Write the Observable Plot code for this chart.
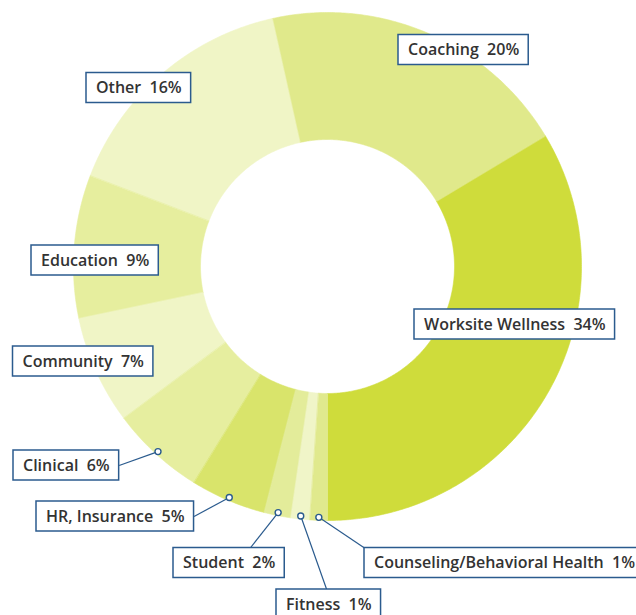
<!DOCTYPE html>
<html>
<head>
<meta charset="utf-8">
<script src="https://cdn.jsdelivr.net/npm/d3@7"></script>
<script src="https://cdn.jsdelivr.net/npm/@observablehq/plot@0.6"></script>
<style>
  html, body { margin: 0; padding: 0; background: #fff; overflow: hidden; }
  #chart { width: 636px; height: 615px; }
</style>
</head>
<body>
<div id="chart"></div>
<script>
// ---- data ----
const categories = ["Worksite Wellness", "Coaching", "Other", "Education", "Community",
  "Clinical", "HR, Insurance", "Student", "Fitness", "Counseling/Behavioral Health"];
const shares = [33.6, 19.9, 15.7, 9.1, 6.9, 6.0, 4.8, 1.7, 1.2, 1.1];
const pctLabels = ["34%", "20%", "16%", "9%", "7%", "6%", "5%", "2%", "1%", "1%"];
const sliceColors = ["#cfdc3b", "#e0e98b", "#f0f5c6", "#e6ee9e", "#f0f5c6",
  "#e6ee9f", "#d9e46b", "#e3ec9a", "#f0f5c8", "#e0e98d"];

// ---- layout ----
const W = 636, H = 615;
const CX = 327, CY = 266, R_OUT = 254, R_IN = 127;
const START = Math.PI; // first slice ends at 6 o'clock, slices run counter-clockwise
// label boxes: left edge, top edge; leader (outside labels): attach fraction on box
const labelLayout = [
  {left: 414, top: 309},
  {left: 398, top: 34.5},
  {left: 86, top: 72.5},
  {left: 31, top: 245},
  {left: 12.5, top: 346},
  {left: 13, top: 450, leader: [1, 0.5]},
  {left: 36, top: 501, leader: [1, 0.5]},
  {left: 173, top: 547.5, leader: [0.69, 0]},
  {left: 276, top: 589, leader: [0.48, 0]},
  {left: 364, top: 547.5, leader: [0, 0]}
];
const BOX_H = 30, PAD = 9.5;
const FONT_SIZE = 16;
const FONT = `600 ${FONT_SIZE}px 'Open Sans'`;
const BLUE = "#2b5b8e";

const total = d3.sum(shares);
const polar = (a, r) => [CX + r * Math.sin(a), CY - r * Math.cos(a)];

// slice polygons
const slicePts = [];
const centroids = [];
let cum = 0;
categories.forEach((cat, i) => {
  const a0 = START - 2 * Math.PI * cum / total;
  cum += shares[i];
  const a1 = START - 2 * Math.PI * cum / total;
  const n = Math.max(4, Math.ceil(Math.abs(a0 - a1) / (Math.PI / 360)));
  for (let k = 0; k <= n; k++) {
    const a = a0 + (a1 - a0) * k / n;
    const [x, y] = polar(a, R_OUT);
    slicePts.push({cat, x, y, color: sliceColors[i]});
  }
  for (let k = n; k >= 0; k--) {
    const a = a0 + (a1 - a0) * k / n;
    const [x, y] = polar(a, R_IN);
    slicePts.push({cat, x, y, color: sliceColors[i]});
  }
  centroids.push((a0 + a1) / 2);
});

// measure text
const ctx = document.createElement("canvas").getContext("2d");
ctx.font = FONT;
const labels = categories.map((cat, i) => {
  const text = cat + "\u00a0\u00a0" + pctLabels[i];
  const w = ctx.measureText(text).width + 2 * PAD;
  const L = labelLayout[i];
  return {text, x1: L.left, x2: L.left + w, y1: L.top, y2: L.top + BOX_H,
    tx: L.left + PAD, ty: L.top + BOX_H / 2, leader: L.leader, idx: i};
});

const leaders = labels.filter(d => d.leader).map(d => {
  const [px, py] = polar(centroids[d.idx], R_OUT - 3);
  return {px, py, bx: d.x1 + (d.x2 - d.x1) * d.leader[0], by: d.y1 + BOX_H * d.leader[1]};
});

const plot = Plot.plot({
  width: W, height: H, margin: 0,
  x: {domain: [0, W], range: [0, W], axis: null},
  y: {domain: [0, H], range: [0, H], axis: null},
  color: {type: "identity"},
  style: {background: "#fff", overflow: "hidden"},
  marks: [
    Plot.line(slicePts, {x: "x", y: "y", z: "cat", fill: "color", stroke: "color", strokeWidth: 0.6, curve: "linear-closed"}),
    Plot.link(leaders, {x1: "px", y1: "py", x2: "bx", y2: "by", stroke: BLUE, strokeWidth: 1.2}),
    Plot.dot(leaders, {x: "px", y: "py", r: 3, fill: "#fff", stroke: BLUE, strokeWidth: 1.4}),
    Plot.rect(labels, {x1: "x1", x2: "x2", y1: "y1", y2: "y2", fill: "#fff", stroke: BLUE, strokeWidth: 1.5}),
    Plot.text(labels, {x: "tx", y: "ty", text: "text", textAnchor: "start", lineAnchor: "middle",
      fontSize: FONT_SIZE, fontWeight: 600, fontFamily: "Open Sans", fill: "#333333"})
  ]
});
document.getElementById("chart").appendChild(plot);
</script>
</body>
</html>
